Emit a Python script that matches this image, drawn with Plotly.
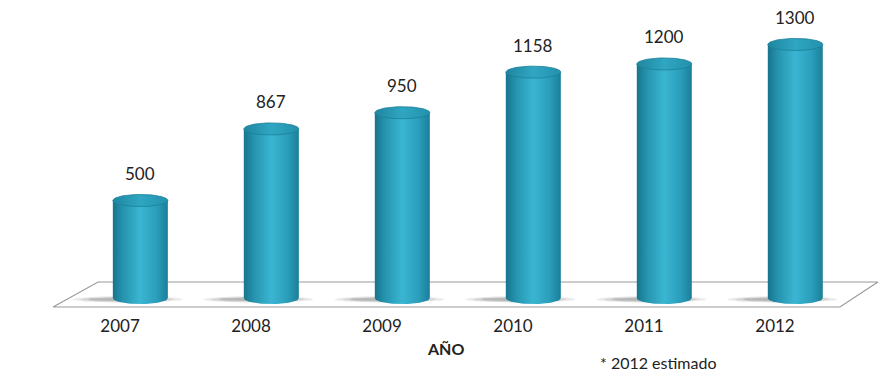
import numpy as np
import plotly.graph_objects as go

# Data
years = ["2007", "2008", "2009", "2010", "2011", "2012"]
valores = [500, 867, 950, 1158, 1200, 1300]
nota = "* 2012 estimado"
titulo_x = "AÑO"

# Cylinder geometry (axis units)
depth_dx = 0.155      # cylinders sit behind the tick positions
rx = 0.21             # half width of a cylinder (x units)
ry = 31               # vertical radius of the elliptical caps (y units)

body_scale = [[0, "#17748c"], [0.18, "#2593ae"], [0.5, "#3ab6d2"], [0.8, "#2a9dba"], [1, "#1b7f99"]]
cap_scale = [[0, "#1f86a0"], [0.5, "#2fa6c2"], [1, "#2391ad"]]

# Page layout (pixels)
W, H = 879, 374
M_L, M_B = 40, 64
plot_w, plot_h = W - M_L, H - M_B

fig = go.Figure()

# Floor platform
floor_x = [-0.511, 5.496, 5.786, -0.168, -0.511]
floor_y = [-46, -46, 82, 82, -46]
fig.add_trace(go.Scatter(x=floor_x, y=floor_y, mode="lines", fill="toself",
                         fillcolor="white", line=dict(color="#9a9a9a", width=1.2),
                         hoverinfo="skip", showlegend=False))

t_full = np.linspace(0, 2 * np.pi, 80)
t_front = np.linspace(0, np.pi, 40)

for i, v in enumerate(valores):
    xc = i + depth_dx
    # soft shadow on the floor
    for sx, sy, a in [(0.42, 17, 0.12), (0.36, 13, 0.16), (0.30, 10, 0.22)]:
        fig.add_trace(go.Scatter(x=xc - 0.10 + sx * np.cos(t_full), y=-7 + sy * np.sin(t_full),
                                 mode="lines", fill="toself", line=dict(width=0),
                                 fillcolor=f"rgba(90,90,90,{a})",
                                 hoverinfo="skip", showlegend=False))
    # cylinder body
    bx = np.concatenate([[xc + rx, xc - rx], xc - rx * np.cos(t_front)])
    by = np.concatenate([[v, v], -ry * np.sin(t_front)])
    bx = np.append(bx, bx[0])
    by = np.append(by, by[0])
    fig.add_trace(go.Scatter(x=bx, y=by, mode="lines", fill="toself",
                             fillgradient=dict(type="horizontal", colorscale=body_scale),
                             line=dict(width=0), hoverinfo="skip", showlegend=False))
    # top cap
    fig.add_trace(go.Scatter(x=xc + rx * np.cos(t_full), y=v + ry * np.sin(t_full),
                             mode="lines", fill="toself",
                             fillgradient=dict(type="horizontal", colorscale=cap_scale),
                             line=dict(width=0.8, color="#1c8099"),
                             hoverinfo="skip", showlegend=False))
    # value label
    fig.add_annotation(x=xc, y=v, text=str(v), showarrow=False, yshift=27,
                       font=dict(family="Lato", size=17, color="#222222"))

# Axis title and footnote below the plot area
fig.add_annotation(x=(445 - M_L) / plot_w, y=-(348 - plot_h) / plot_h,
                   xref="paper", yref="paper", yanchor="middle",
                   text=titulo_x, showarrow=False,
                   font=dict(family="Lato", size=16, color="#222222", weight="bold"))
fig.add_annotation(x=(598 - M_L) / plot_w, y=-(362 - plot_h) / plot_h,
                   xref="paper", yref="paper", xanchor="left", yanchor="middle",
                   text=nota, showarrow=False,
                   font=dict(family="Lato", size=16, color="#222222"))

fig.update_layout(
    width=W, height=H,
    margin=dict(l=M_L, r=0, t=0, b=M_B),
    paper_bgcolor="white", plot_bgcolor="white",
    xaxis=dict(range=[-0.611, 5.794], tickvals=list(range(len(years))), ticktext=years,
               showgrid=False, zeroline=False, showline=False, ticks="",
               ticklabelstandoff=4,
               tickfont=dict(family="Lato", size=17, color="#222222"), fixedrange=True),
    yaxis=dict(range=[-61.5, 1528], showgrid=False, zeroline=False, showline=False,
               showticklabels=False, fixedrange=True),
    showlegend=False,
)

fig.write_html("out.html")
